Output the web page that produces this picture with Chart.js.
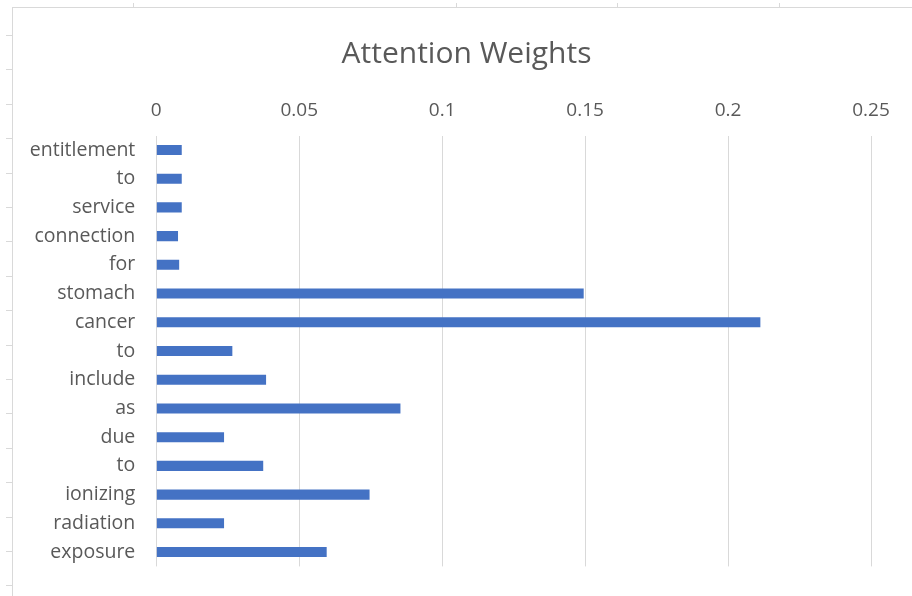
<!DOCTYPE html>
<html>
<head>
<meta charset="utf-8">
<script src="https://cdn.jsdelivr.net/npm/chart.js@4"></script>
<style>
  html, body { margin: 0; padding: 0; background: #fff; }
  #wrap { position: relative; width: 912px; height: 596px; overflow: hidden; }
  #frame { position: absolute; left: 12px; top: 7px; right: -2px; bottom: -2px;
           border-left: 1px solid #d9d9d9; border-top: 1px solid #d9d9d9; }
  #rowTicks { position: absolute; left: 6px; top: 35px; width: 6px; height: 561px;
              background: repeating-linear-gradient(to bottom, #d9d9d9 0 1px, transparent 1px 34.4px); }
  #colTicks { position: absolute; left: 133px; top: 3px; width: 779px; height: 4px;
              background: repeating-linear-gradient(to right, #d9d9d9 0 1px, transparent 1px 161.5px); }
  canvas { position: absolute; left: 21px; top: 0; }
</style>
</head>
<body>
<div id="wrap">
  <div id="frame"></div>
  <div id="rowTicks"></div>
  <div id="colTicks"></div>
  <canvas id="chart" width="891" height="596"></canvas>
</div>
<script>
const words = ['entitlement', 'to', 'service', 'connection', 'for', 'stomach', 'cancer',
  'to', 'include', 'as', 'due', 'to', 'ionizing', 'radiation', 'exposure'];
const weights = [0.0089, 0.0089, 0.0089, 0.0076, 0.0080, 0.1495, 0.2113,
  0.0266, 0.0384, 0.0854, 0.0237, 0.0374, 0.0746, 0.0237, 0.0596];
const xTicks = [0, 0.05, 0.1, 0.15, 0.2, 0.25];

const textColor = '#595959';
const gridColor = '#d9d9d9';
const font = "'Open Sans', sans-serif";

new Chart(document.getElementById('chart'), {
  type: 'bar',
  data: {
    labels: words,
    datasets: [{
      label: 'Attention Weights',
      data: weights,
      backgroundColor: '#4472c4',
      barPercentage: 0.35,
      categoryPercentage: 1
    }]
  },
  options: {
    indexAxis: 'y',
    responsive: false,
    animation: false,
    layout: { padding: { left: 0, right: 0, top: 0, bottom: 29.6 } },
    plugins: {
      legend: { display: false },
      tooltip: { enabled: false },
      title: {
        display: true,
        text: 'Attention Weights',
        color: textColor,
        font: { family: font, size: 30, weight: 'normal' },
        padding: { top: 36, bottom: 23.6 }
      }
    },
    scales: {
      x: {
        position: 'top',
        min: 0,
        max: 0.25,
        afterBuildTicks: scale => { scale.ticks = xTicks.map(v => ({ value: v })); },
        afterFit: scale => { scale.height = 40; },
        ticks: {
          color: textColor,
          font: { family: font, size: 19 },
          padding: 14,
          maxRotation: 0,
          callback: v => String(+v.toFixed(2))
        },
        grid: { color: gridColor, lineWidth: 1, drawTicks: false },
        border: { display: false }
      },
      y: {
        afterFit: scale => {
          scale.width = 135.3;
          scale.paddingTop = 0;
          scale.paddingBottom = 0;
        },
        ticks: {
          color: textColor,
          font: { family: font, size: 19.5 },
          padding: 21
        },
        grid: { display: false, drawTicks: false },
        border: { display: false }
      },
      // empty right-hand axis: keeps space on the right without shifting the title
      spacer: {
        type: 'linear',
        position: 'right',
        afterFit: scale => { scale.width = 41; },
        ticks: { display: false },
        grid: { display: false, drawTicks: false },
        border: { display: false }
      }
    }
  }
});
</script>
</body>
</html>
